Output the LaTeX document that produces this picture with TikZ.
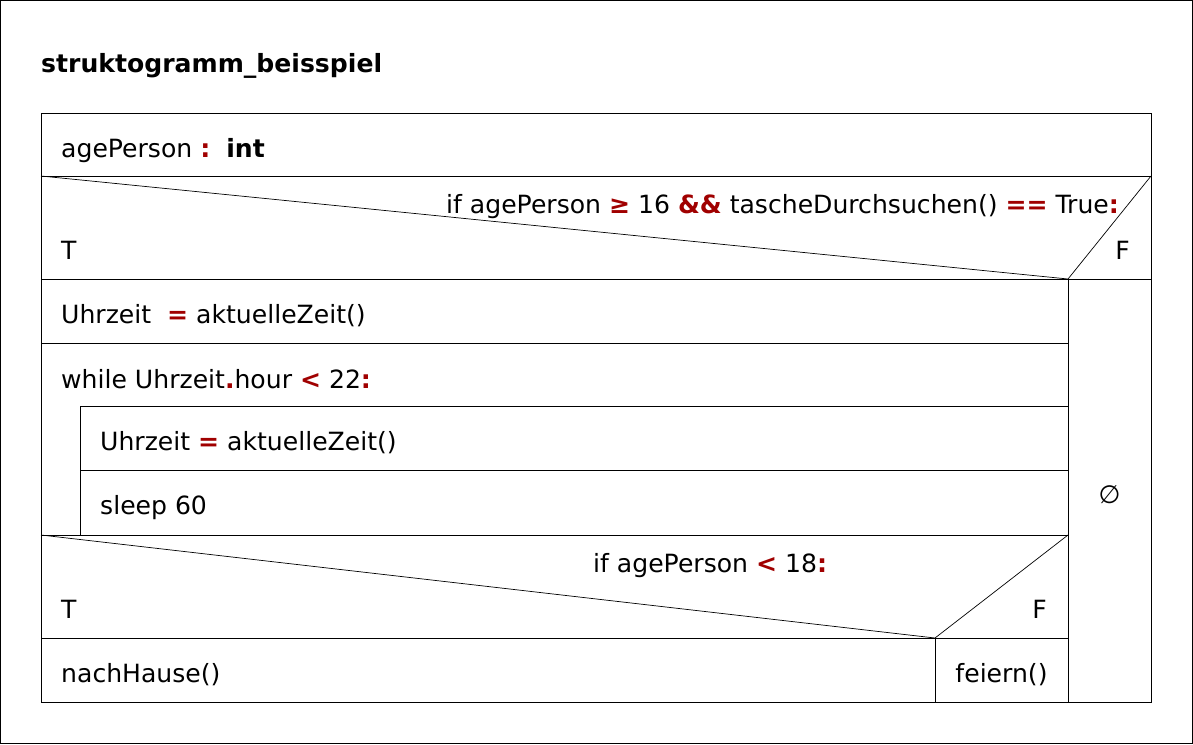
\documentclass[tikz,border=0pt]{standalone}
\usepackage{fontspec}
\setmainfont{DejaVu Sans}
\definecolor{opred}{RGB}{160,0,0}
\newcommand{\redop}[1]{{\bfseries\color{opred}#1}}
\begin{document}
\begin{tikzpicture}[x=1pt,y=-1pt,
  box/.style={line width=1pt,draw=black},
  diag/.style={line width=0.7pt,draw=black},
  txt/.style={anchor=base west,inner sep=0pt,font=\fontsize{25.1}{29}\selectfont},
  txtr/.style={anchor=base east,inner sep=0pt,font=\fontsize{25.1}{29}\selectfont},
  txtc/.style={anchor=base,inner sep=0pt,font=\fontsize{25.1}{29}\selectfont}]
\useasboundingbox (0,0) rectangle (1193,744);
\draw[box] (0.5,0.5) rectangle (1192.5,743.5);
% coordinates
\coordinate (tl) at (41,113);
\coordinate (br) at (1151,702);
\coordinate (a1) at (41,176);   \coordinate (a2) at (1151,176);
\coordinate (b1) at (41,279);   \coordinate (b2) at (1151,279); \coordinate (bm) at (1068,279);
\coordinate (c1) at (41,343);   \coordinate (c2) at (1068,343);
\coordinate (d1) at (80,406);   \coordinate (d2) at (1068,406);
\coordinate (e1) at (80,470);   \coordinate (e2) at (1068,470);
\coordinate (f1) at (41,535);   \coordinate (f2) at (1068,535); \coordinate (f0) at (80,535);
\coordinate (g1) at (41,638);   \coordinate (g2) at (1068,638); \coordinate (gm) at (935,638);
\coordinate (h2) at (1068,702); \coordinate (hm) at (935,702);
% boxes
\draw[box] (tl) rectangle (br);
\draw[box] (a1) -- (a2);
\draw[box] (b1) -- (b2);
\draw[box] (c1) -- (c2);
\draw[box] (d1) -- (d2);
\draw[box] (e1) -- (e2);
\draw[box] (f1) -- (f2);
\draw[box] (g1) -- (g2);
\draw[box] (bm) -- (h2);
\draw[box] (d1) -- (f0);
\draw[box] (gm) -- (hm);
\draw[diag] (a1) -- (bm) -- (a2);
\draw[diag] (f1) -- (gm) -- (f2);
% texts
\node[txt,font=\fontsize{25.1}{29}\selectfont\bfseries] (title) at (41,72) {struktogramm\_beisspiel};
\node[txt] (decl) at (61,157) {agePerson \redop{:}~~{\bfseries int}};
\node[txt] (if1) at (446,213) {if agePerson \redop{≥} 16 \redop{\&\&} tascheDurchsuchen() \redop{==} True\redop{:}};
\node[txt] (t1) at (61,259) {T};
\node[txtr] (f1t) at (1130,259) {F};
\node[txt] (s1) at (61,323) {Uhrzeit~~\redop{=} aktuelleZeit()};
\node[txt] (wh) at (61,388) {while Uhrzeit\redop{.}hour \redop{<} 22\redop{:}};
\node[txt] (s2) at (100,450) {Uhrzeit \redop{=} aktuelleZeit()};
\node[txt] (s3) at (100,514) {sleep 60};
\node[txt] (if2) at (593,572) {if agePerson \redop{<} 18\redop{:}};
\node[txt] (t2) at (61,618) {T};
\node[txtr] (f2t) at (1047,618) {F};
\node[txt] (nh) at (61,682) {nachHause()};
\node[txtc] (fe) at (1001.5,682) {feiern()};
\node[txtc] (empty) at (1109.5,503) {∅};
\end{tikzpicture}
\end{document}
